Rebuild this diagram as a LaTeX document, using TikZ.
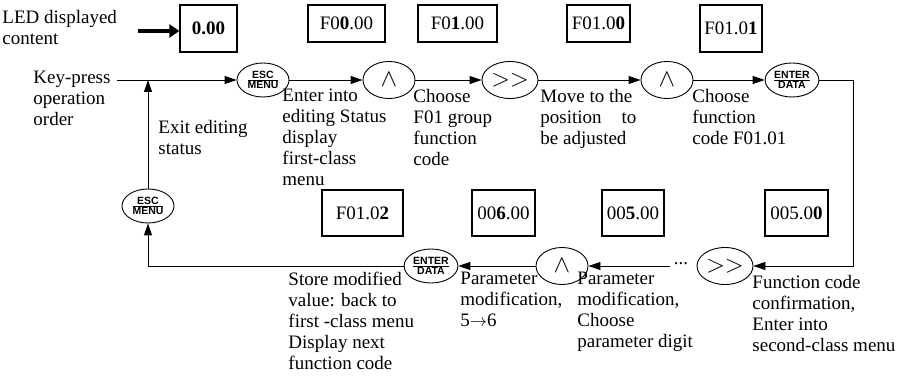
\documentclass[tikz,border=0pt]{standalone}
\usepackage{fontspec}
\setmainfont{Liberation Serif}
\setsansfont{Liberation Sans}
\usetikzlibrary{shapes, positioning, arrows.meta, calc}
\newcommand{\keylbl}[2]{$\frac{\mbox{#1}}{\mbox{#2}}$}

\begin{document}
\begin{tikzpicture}[x=1pt, y=-1pt, font=\fontsize{19}{21}\selectfont, line width=0.9pt,
    lbl/.style={anchor=north west, align=left, inner sep=0pt},
    disp/.style={draw, line width=1.3pt, rectangle, inner sep=0pt},
    key/.style={draw, ellipse, inner sep=0pt, minimum width=52, minimum height=37, font=\fontsize{25}{25}\selectfont},
    keytxt/.style={font=\fontsize{10.5}{11}\sffamily\bfseries, minimum width=52, minimum height=34},
    arr/.style={-{Triangle[length=12pt,width=8pt]}}]
    \useasboundingbox (0,0) rectangle (902,379);
    \foreach \n/\x/\y/\w/\h/\t in {d0/208.5/28.5/57/47/\textbf{0.00}, d1/346.5/23.5/77/37/F0\textbf{0}.00,
        d2/457.5/23.5/79/37/F0\textbf{1}.00, d3/598.5/23.5/63/37/F01.0\textbf{0}, d4/731/28.5/62/47/F01.0\textbf{1},
        d5/362.5/213/81/46/F01.0\textbf{2}, d6/503.5/213/63/46/00\textbf{6}.00,
        d7/633/213/62/46/00\textbf{5}.00, d8/796.5/213/63/46/005.0\textbf{0}} {
        \node[disp, minimum width=\w, minimum height=\h] (\n) at (\x,\y) {\t};
    }
    \node[key, keytxt] (esc1) at (263,80) {\keylbl{ESC}{MENU}};
    \node[key] (up1) at (389,80) {$\wedge$};
    \node[key, minimum width=56] (sh1) at (510,80) {$>>$};
    \node[key] (up2) at (667,80) {$\wedge$};
    \node[key, keytxt] (ent1) at (792,80) {\keylbl{ENTER}{DATA}};
    \node[key, minimum width=56] (sh2) at (725,266) {$>>$};
    \node[inner sep=3pt] (dots) at (681,266) {\raisebox{5pt}{...}};
    \node[key] (up3) at (562,266) {$\wedge$};
    \node[key, keytxt] (ent2) at (431,266) {\keylbl{ENTER}{DATA}};
    \node[key, keytxt] (esc2) at (148,206) {\keylbl{ESC}{MENU}};
    \coordinate (kp) at (117,80);
    \coordinate (jn) at (148,80);
    \coordinate (rc) at (853,0);
    \coordinate (led) at (138,31);
    \node[lbl] (lled) at (2,10) {LED displayed\\content};
    \node[lbl] (lkey) at (33,71) {Key-press\\operation\\order};
    \node[lbl] (lexit) at (158,120) {Exit editing\\status};
    \node[lbl] (lenter) at (282,88) {Enter into\\editing Status\\display\\first-class\\menu};
    \node[lbl] (lgrp) at (413,89) {Choose\\F01 group\\function\\code};
    \node[lbl] (lmove) at (540,89) {Move to the\\\hbox to 96pt{position\hfill to}\\be adjusted};
    \node[lbl] (lfunc) at (692,89) {Choose\\function\\code F01.01};
    \node[lbl] (lstore) at (288,272) {Store modified\\value: back to\\first -class menu\\Display next\\function code};
    \node[lbl] (lmod) at (460,272) {Parameter\\modification,\\5$\to$6};
    \node[lbl] (ldigit) at (577,272) {Parameter\\modification,\\Choose\\parameter digit};
    \node[lbl] (lconf) at (752,275) {Function code\\confirmation,\\Enter into\\second-class menu};
    \draw[line width=4pt, -{Triangle[length=10pt,width=13pt]}] (led) -- (led -| d0.west);
    \draw[arr] (kp) -- (esc1);
    \foreach \a/\b in {esc1/up1, up1/sh1, sh1/up2, up2/ent1, dots/up3, up3/ent2} {
        \draw[arr] (\a) -- (\b);
    }
    \draw[arr] (ent1) -- (ent1 -| rc) -- (sh2 -| rc) -- (sh2);
    \draw[arr] (ent2) -| (esc2);
    \draw[arr] (esc2) -- (jn);
\end{tikzpicture}
\end{document}
